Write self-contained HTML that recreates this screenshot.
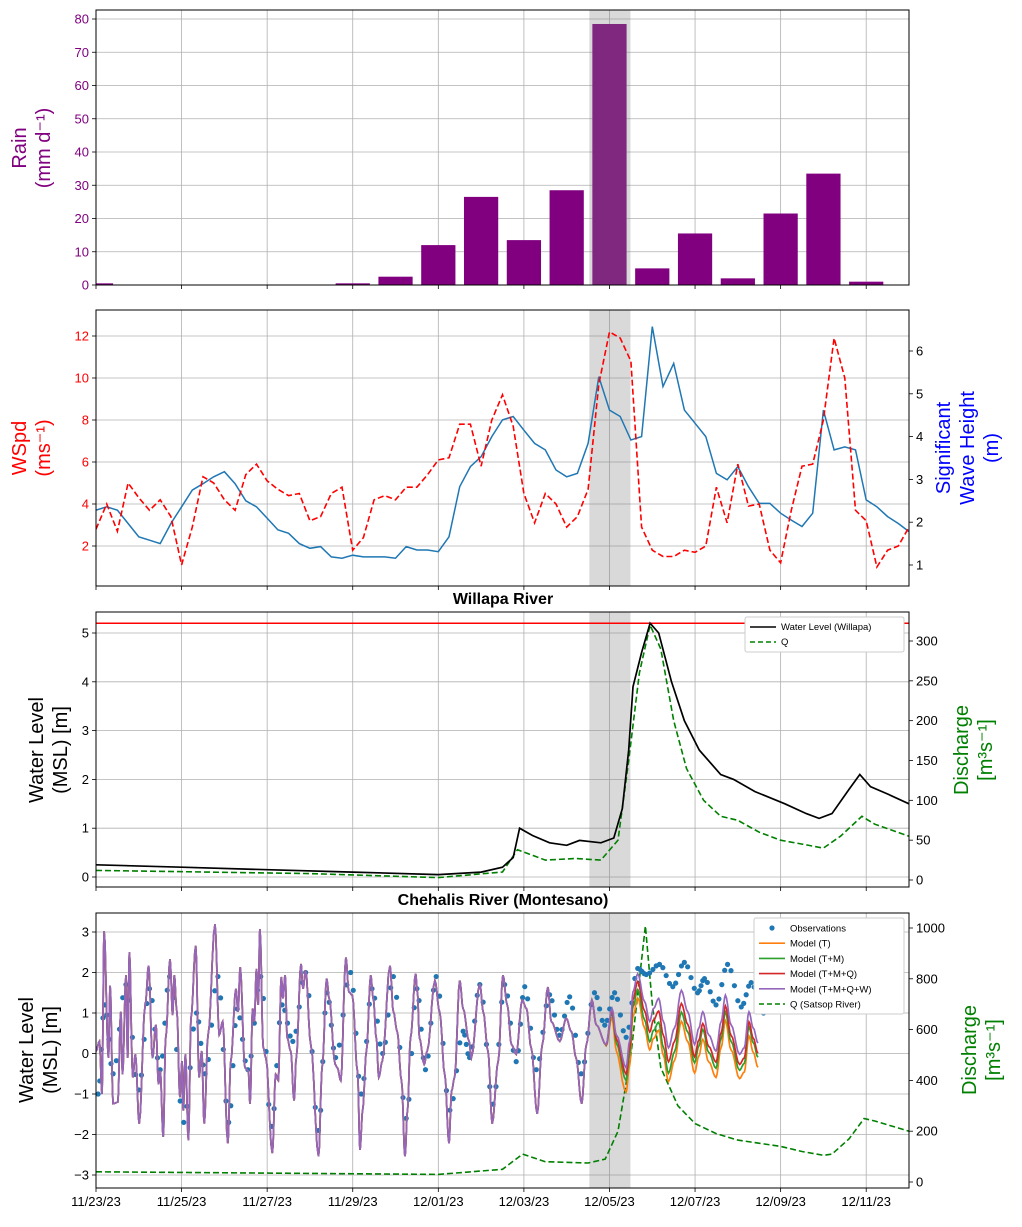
<!DOCTYPE html>
<html><head><meta charset="utf-8">
<style>
body{margin:0;background:#fff;font-family:"Liberation Sans","DejaVu Sans",sans-serif;}
svg text{font-family:"Liberation Sans","DejaVu Sans",sans-serif;}
</style></head>
<body>
<svg id="chart" width="1022" height="1222" viewBox="0 0 1022 1222" xmlns="http://www.w3.org/2000/svg"></svg>
<script>
// ---------- DATA ----------
const rainDays = [0,1,2,3,4,5,6,7,8,9,10,11,12,13,14,15,16,17,18];
const rainValues = [0.5,0,0,0,0,0,0.5,2.5,12,26.5,13.5,28.5,78.5,5,15.5,2,21.5,33.5,1];
const rainTicks = [0,10,20,30,40,50,60,70,80];

const windDays = [0,0.25,0.5,0.75,1,1.25,1.5,1.75,2,2.25,2.5,2.75,3,3.25,3.5,3.75,4,4.25,4.5,4.75,5,5.25,5.5,5.75,6,6.25,6.5,6.75,7,7.25,7.5,7.75,8,8.25,8.5,8.75,9,9.25,9.5,9.75,10,10.25,10.5,10.75,11,11.25,11.5,11.75,12,12.25,12.5,12.75,13,13.25,13.5,13.75,14,14.25,14.5,14.75,15,15.25,15.5,15.75,16,16.25,16.5,16.75,17,17.25,17.5,17.75,18,18.25,18.5,18.75,19];
const windSpeed = [2.8,4.0,2.7,5.0,4.3,3.7,4.2,3.4,1.1,2.9,5.3,5.0,4.2,3.7,5.4,5.9,5.1,4.7,4.4,4.5,3.2,3.4,4.5,4.8,1.8,2.4,4.2,4.4,4.2,4.8,4.8,5.4,6.1,6.2,7.8,7.8,5.8,8.0,9.2,7.7,4.5,3.1,4.5,4.0,2.9,3.4,4.7,9.7,12.2,11.9,10.8,2.9,1.8,1.5,1.5,1.8,1.7,2.0,4.8,3.1,5.9,3.9,4.0,1.8,1.2,3.7,5.8,5.9,8.0,11.9,10.0,3.7,3.2,1.0,1.8,2.0,2.9];
const waveHeight = [2.28,2.36,2.28,1.97,1.66,1.58,1.5,1.97,2.36,2.75,2.9,3.06,3.18,2.9,2.5,2.36,2.09,1.82,1.74,1.5,1.39,1.43,1.19,1.16,1.23,1.19,1.19,1.19,1.16,1.43,1.35,1.35,1.31,1.66,2.83,3.3,3.53,4.0,4.39,4.47,4.15,3.84,3.69,3.22,3.06,3.14,3.84,5.4,4.62,4.47,3.92,4.0,6.57,5.17,5.71,4.62,4.31,4.0,3.14,2.99,3.3,2.83,2.44,2.44,2.21,2.05,1.9,2.21,4.62,3.69,3.76,3.69,2.52,2.36,2.13,1.97,1.78];
const windTicks = [2,4,6,8,10,12];
const waveTicks = [1,2,3,4,5,6];

const willDays = [0,2,4,6,8,9,9.5,9.75,9.9,10.2,10.6,11,11.3,11.8,12.1,12.3,12.45,12.55,12.75,12.95,13.15,13.45,13.75,14.1,14.6,14.9,15.4,16.1,16.6,16.9,17.2,17.6,17.85,18.1,18.5,19];
const willLevel = [0.25,0.2,0.15,0.1,0.05,0.1,0.2,0.4,1.0,0.85,0.7,0.65,0.75,0.7,0.8,1.4,2.6,3.9,4.6,5.2,5.0,4.0,3.2,2.6,2.1,2.0,1.75,1.5,1.3,1.2,1.3,1.8,2.1,1.85,1.7,1.5];
const willQDays = [0,5,8,9.5,9.85,10.5,11.2,11.8,12.2,12.45,12.7,12.95,13.2,13.5,13.8,14.2,14.6,15,15.5,16,16.5,17,17.4,17.9,18.2,19];
const willQ = [12,8,3,10,38,25,27,25,50,150,260,320,290,200,140,100,80,75,60,50,45,40,55,80,70,55];
const floodLevel = [5.2];
const willLevelTicks = [0,1,2,3,4,5];
const willQTicks = [0,50,100,150,200,250,300];

const tideDays = [0,0.08,0.14,0.19,0.29,0.33,0.40,0.51,0.58,0.62,0.70,0.74,0.78,0.86,0.92,1.01,1.15,1.23,1.32,1.40,1.46,1.50,1.57,1.63,1.73,1.79,1.83,1.89,1.96,2.01,2.04,2.09,2.16,2.22,2.33,2.41,2.47,2.53,2.62,2.78,2.88,2.96,3.08,3.15,3.27,3.32,3.37,3.48,3.56,3.60,3.66,3.70,3.75,3.79,3.83,3.91,3.97,4.12,4.20,4.26,4.33,4.37,4.42,4.47,4.55,4.63,4.68,4.79,4.84,4.90,5.02,5.20,5.29,5.39,5.45,5.59,5.64,5.72,5.84,5.91,5.99,6.11,6.17,6.23,6.32,6.42,6.48,6.55,6.61,6.69,6.87,6.95,7.04,7.14,7.22,7.28,7.35,7.47,7.51,7.56,7.67,7.74,7.92,8.03,8.15,8.25,8.31,8.38,8.50,8.58,8.72,8.77,8.97,9.05,9.16,9.26,9.40,9.51,9.61,9.71,9.82,9.96,10.06,10.17,10.31,10.43,10.56,10.64,10.84,10.99,11.11,11.22,11.35,11.46,11.59,11.69,11.92,12.06,12.16,12.39,12.47,12.55,12.66,12.82,12.94,13.03,13.15,13.26,13.38,13.52,13.68,13.83,13.99,14.09,14.18,14.32,14.49,14.61,14.71,14.84,15.04,15.15,15.26,15.36,15.47];
const tideModelTMQW = [0.06,0.30,-1.00,3.02,-0.11,1.68,-1.24,-1.20,1.03,-0.51,1.93,-0.11,2.50,-0.59,-0.02,-1.73,1.20,2.17,-0.11,0.71,-0.76,-0.43,-2.06,0.38,2.33,0.95,1.93,1.03,-1.08,-0.19,-1.41,-0.02,-2.14,0.87,2.66,-0.59,0.06,-1.73,0.46,3.19,0.46,0.79,-2.22,-0.19,1.60,1.03,2.13,-0.35,-0.43,-1.24,1.11,0.79,2.09,1.20,3.07,0.14,-0.11,-2.46,-0.51,-0.67,1.89,1.36,1.93,0.38,0.06,-1.16,-0.11,2.21,1.60,2.05,0.22,-2.54,-0.27,1.85,1.36,-0.27,-0.35,-0.67,2.37,1.52,1.44,-0.43,-2.38,-1.41,0.06,1.93,1.36,0.38,-0.59,-0.19,2.17,1.03,0.54,-0.67,-2.54,-1.41,0.38,1.97,1.52,0.38,-0.27,0.06,1.80,1.03,-0.51,-2.22,-0.92,-0.59,1.80,1.11,0.30,-0.11,1.72,1.03,0.06,-1.73,-0.19,1.93,1.20,0.22,-0.02,1.32,1.11,0.14,-1.49,0.22,1.64,0.79,0.30,0.87,0.54,-0.11,-1.24,0.22,1.32,0.71,0.22,1.11,0.46,-0.35,0.30,1.52,1.97,1.28,0.79,1.11,1.36,0.79,0.14,0.63,1.56,1.03,0.22,0.63,1.03,0.46,0.06,0.79,1.44,0.71,-0.02,0.14,1.03,0.63,0.26];
const offsetDays = [0,11.9,12.3,12.7,13.3,14,15,15.5];
const offsetT = [0,0,-0.6,-0.6,-0.85,-0.7,-0.6,-0.6];
const offsetTM = [0,0,-0.3,-0.4,-0.65,-0.45,-0.4,-0.35];
const offsetTMQ = [0,0,-0.15,-0.2,-0.35,-0.3,-0.25,-0.25];
const obsDays = [0.05,0.2,0.4,0.7,1.0,1.25,1.5,1.72,2.05,2.35,2.55,2.85,3.1,3.3,3.55,3.85,4.1,4.35,4.6,4.9,5.2,5.4,5.6,5.95,6.2,6.45,6.7,6.95,7.25,7.5,7.7,7.95,8.27,8.58,8.73,8.97,9.28,9.55,9.82,10.02,10.29,10.6,10.83,11.07,11.34,11.65,11.89,12.12,12.39,12.66,12.86,13.17,13.48,13.75,14.06,14.22,14.49,14.76,15.08,15.31,15.6];
const obsLevel = [-1.0,1.2,-0.5,1.7,-0.9,1.6,-0.4,1.9,-1.7,1.0,-0.5,1.9,-1.7,1.1,-0.4,1.9,-1.8,1.2,0.3,2.0,-1.9,1.5,-0.1,2.0,-1.0,1.6,0,1.9,-1.6,1.6,-0.4,1.9,-1.4,0.55,-0.1,1.7,-1.25,1.7,-0.2,1.65,-0.4,1.45,0.45,1.4,-0.5,1.5,0.7,1.5,0.4,2.1,1.95,2.2,1.65,2.25,1.5,1.85,1.2,2.2,1.15,1.75,1.0];
const satsopDays = [0,4,8,9.5,9.97,10.5,11.5,11.9,12.2,12.5,12.84,13.0,13.2,13.6,14,14.5,15,16,16.5,17,17.2,17.6,17.95,18.2,19];
const satsopQ = [40,35,30,50,110,80,75,90,200,500,1008,700,450,300,230,190,165,140,120,105,110,170,250,240,200];
const chehLevelTicks = [-3,-2,-1,0,1,2,3];
const chehQTicks = [0,200,400,600,800,1000];
const dateTickDays = [0,2,4,6,8,10,12,14,16,18];
const dateTickLabels = ["11/23/23","11/25/23","11/27/23","11/29/23","12/01/23","12/03/23","12/05/23","12/07/23","12/09/23","12/11/23"];
const shadeStart = 11.53, shadeEnd = 12.49;

// ---------- RENDER ----------
const NS = "http://www.w3.org/2000/svg";
const svg = document.getElementById("chart");
function mk(tag, attrs, parent, txt){
  const e = document.createElementNS(NS, tag);
  for (const k in attrs) e.setAttribute(k, attrs[k]);
  if (txt !== undefined) e.textContent = txt;
  (parent || svg).appendChild(e);
  return e;
}
const X0 = 96, X1 = 909, DMAX = 19;
const xs = d => X0 + (X1 - X0) * d / DMAX;
function lin(v0, p0, v1, p1){ return v => p0 + (v - v0) * (p1 - p0) / (v1 - v0); }

const panels = [
  {name:"rain-panel", top:10, bot:285},
  {name:"wind-wave-panel", top:310, bot:586},
  {name:"willapa-panel", top:612, bot:887},
  {name:"chehalis-panel", top:913, bot:1188}
];
const yRain = lin(0,285,80,19);
const yWind = lin(2,546,12,336);
const yWave = lin(1,565,6,351);
const yWill = lin(0,877,5,633);
const yWillQ = lin(0,880,300,641);
const yCh = lin(-3,1175,3,932);
const yChQ = lin(0,1182,1000,928);

function linePath(days, vals, ys){
  return days.map((d,i)=>(i?"L":"M")+xs(d).toFixed(1)+","+ys(vals[i]).toFixed(1)).join("");
}
function cosSamples(days, vals, n){
  const out=[];
  for(let i=0;i<days.length-1;i++){
    for(let k=0;k<n;k++){
      const f=k/n, w=(1-Math.cos(Math.PI*f))/2;
      out.push([days[i]+(days[i+1]-days[i])*f, vals[i]+(vals[i+1]-vals[i])*w]);
    }
  }
  out.push([days[days.length-1], vals[vals.length-1]]);
  return out;
}
function interpAt(days, vals, d){
  if (d<=days[0]) return vals[0];
  for(let i=0;i<days.length-1;i++) if(d<=days[i+1]){const f=(d-days[i])/(days[i+1]-days[i]);return vals[i]+f*(vals[i+1]-vals[i]);}
  return vals[vals.length-1];
}
function fmt(t){ return t<0 ? "\u2212"+String(-t) : String(t); }

panels.forEach((p, pi)=>{
  const g = mk("g", {});
  
  
  p.g = g;
  dateTickDays.forEach(d=>{
    mk("line",{x1:xs(d),x2:xs(d),y1:p.top,y2:p.bot,stroke:"#b0b0b0","stroke-width":0.8},g);
    mk("line",{x1:xs(d),x2:xs(d),y1:p.bot,y2:p.bot+4,stroke:"#000","stroke-width":0.8},g);
  });
});

function hgrid(p, ticks, ys, side, color){
  ticks.forEach(t=>{
    const y = ys(t);
    if (side==="left") mk("line",{x1:X0,x2:X1,y1:y,y2:y,stroke:"#b0b0b0","stroke-width":0.8},p.g);
    const xt = side==="left"?X0:X1;
    mk("line",{x1:xt,x2:side==="left"?xt-4:xt+4,y1:y,y2:y,stroke:"#000","stroke-width":0.8},p.g);
    const lab = mk("text",{x:side==="left"?xt-7:xt+7,y:y+4.5,"font-size":13,"text-anchor":side==="left"?"end":"start",fill:color},p.g,fmt(t));
    
    
  });
}
function shade(p, op){
  const r = mk("rect",{x:xs(shadeStart),y:p.top,width:xs(shadeEnd)-xs(shadeStart),height:p.bot-p.top,fill:"#808080","fill-opacity":op},p.g);
  
  
}
function frame(p){
  mk("rect",{x:X0,y:p.top,width:X1-X0,height:p.bot-p.top,fill:"none",stroke:"#000","stroke-width":1},p.g);
}
function clip(p,id){
  const cp = mk("clipPath",{id:id});
  mk("rect",{x:X0,y:p.top,width:X1-X0,height:p.bot-p.top},cp);
  return "url(#"+id+")";
}
function axisLabel(lines, x, y, color, size){
  const t = mk("text",{transform:`translate(${x},${y}) rotate(-90)`,"text-anchor":"middle",fill:color,"font-size":size});
  lines.forEach((ln,i)=>{ mk("tspan",{x:0,dy:i?size*1.2:0},t,ln); });
  return t;
}

// Panel 1: rain
{
  const p = panels[0];
  hgrid(p, rainTicks, yRain, "left", "#800080");
  const gb = mk("g",{"clip-path":clip(p,"c1")},p.g);
  rainDays.forEach((d,i)=>{
    const w = (X1-X0)/DMAX*0.8;
    const b = mk("rect",{x:xs(d)-w/2,y:yRain(rainValues[i]),width:w,height:yRain(0)-yRain(rainValues[i]),fill:"#800080"},gb);
    
    
  });
  shade(p,0.3);
  frame(p);
  const l = axisLabel(["Rain","(mm d\u207B\u00B9)"],26,148,"#800080",20);
   
}
// Panel 2: wind & wave
{
  const p = panels[1];
  hgrid(p, windTicks, yWind, "left", "#ff0000");
  hgrid(p, waveTicks, yWave, "right", "#000");
  shade(p,0.3);
  const cp = clip(p,"c2");
  const wv = mk("path",{d:linePath(windDays,waveHeight,yWave),fill:"none",stroke:"#1f77b4","stroke-width":1.5,"clip-path":cp},p.g);
   
  const wd = mk("path",{d:linePath(windDays,windSpeed,yWind),fill:"none",stroke:"#ff0000","stroke-width":1.6,"stroke-dasharray":"6,3","clip-path":cp},p.g);
   
  frame(p);
  const l = axisLabel(["WSpd","(ms\u207B\u00B9)"],26,448,"#ff0000",20);
   
  const r = axisLabel(["Significant","Wave Height","(m)"],950,448,"#0000ff",20);
   
}
// Panel 3: Willapa
{
  const p = panels[2];
  hgrid(p, willLevelTicks, yWill, "left", "#000");
  hgrid(p, willQTicks, yWillQ, "right", "#000");
  shade(p,0.3);
  const cp = clip(p,"c3");
  const fl = mk("line",{x1:X0,x2:X1,y1:yWill(floodLevel[0]),y2:yWill(floodLevel[0]),stroke:"#ff0000","stroke-width":1.5},p.g);
   
  const q = mk("path",{d:linePath(willQDays,willQ,yWillQ),fill:"none",stroke:"#008000","stroke-width":1.6,"stroke-dasharray":"6,3","clip-path":cp},p.g);
   
  const wl = mk("path",{d:linePath(willDays,willLevel,yWill),fill:"none",stroke:"#000","stroke-width":1.7,"clip-path":cp},p.g);
   
  frame(p);
  const t = mk("text",{x:503,y:604,"text-anchor":"middle","font-size":16,"font-weight":"bold"},p.g,"Willapa River");
   
  const l = axisLabel(["Water Level","(MSL) [m]"],43,750,"#000",20);
   
  const r = axisLabel(["Discharge","[m\u00B3s\u207B\u00B9]"],968,750,"#008000",20);
   
  const lg = mk("g",{},p.g);
   
  mk("rect",{x:745,y:617,width:159,height:35,fill:"#fff",stroke:"#ccc",rx:2},lg);
  mk("line",{x1:750,x2:776,y1:627,y2:627,stroke:"#000","stroke-width":1.5},lg);
  mk("text",{x:781,y:630,"font-size":9.5},lg,"Water Level (Willapa)");
  mk("line",{x1:750,x2:776,y1:642,y2:642,stroke:"#008000","stroke-width":1.5,"stroke-dasharray":"5,3"},lg);
  mk("text",{x:781,y:645,"font-size":9.5},lg,"Q");
}
// Panel 4: Chehalis
{
  const p = panels[3];
  hgrid(p, chehLevelTicks, yCh, "left", "#000");
  hgrid(p, chehQTicks, yChQ, "right", "#000");
  shade(p,0.3);
  const cp = clip(p,"c4");
  const q = mk("path",{d:linePath(satsopDays,satsopQ,yChQ),fill:"none",stroke:"#008000","stroke-width":1.6,"stroke-dasharray":"6,3","clip-path":cp},p.g);
   
  const obs = cosSamples(obsDays, obsLevel, 4);
  const og = mk("g",{"clip-path":cp},p.g);
   
  obs.forEach(o=>{
    const c = mk("circle",{cx:xs(o[0]),cy:yCh(o[1]),r:2.6,fill:"#1f77b4"},og);
    
    
  });
  const base = cosSamples(tideDays, tideModelTMQW, 5);
  const models = [
    {name:"model-t-line", off:offsetT, color:"#ff7f0e"},
    {name:"model-tm-line", off:offsetTM, color:"#2ca02c"},
    {name:"model-tmq-line", off:offsetTMQ, color:"#d62728"},
    {name:"model-tmqw-line", off:null, color:"#9467bd"}
  ];
  models.forEach(m=>{
    const d = base.map((s,i)=>{
      const v = s[1] + (m.off ? interpAt(offsetDays, m.off, s[0]) : 0);
      return (i?"L":"M")+xs(s[0]).toFixed(1)+","+yCh(v).toFixed(1);
    }).join("");
    const pth = mk("path",{d:d,fill:"none",stroke:m.color,"stroke-width":1.7,"clip-path":cp},p.g);
    
    
  });
  frame(p);
  const t = mk("text",{x:503,y:905,"text-anchor":"middle","font-size":16,"font-weight":"bold"},p.g,"Chehalis River (Montesano)");
   
  const l = axisLabel(["Water Level","(MSL) [m]"],33,1050,"#000",20);
   
  const r = axisLabel(["Discharge","[m\u00B3s\u207B\u00B9]"],976,1050,"#008000",20);
   
  dateTickDays.forEach((d,i)=>{
    const tl = mk("text",{x:xs(d),y:1206,"text-anchor":"middle","font-size":13},p.g,dateTickLabels[i]);
    
    
  });
  const lg = mk("g",{},p.g);
   
  mk("rect",{x:754,y:918,width:150,height:96,fill:"#fff",stroke:"#ccc",rx:2},lg);
  const ents = [["Observations","#1f77b4","dot"],["Model (T)","#ff7f0e","line"],["Model (T+M)","#2ca02c","line"],["Model (T+M+Q)","#d62728","line"],["Model (T+M+Q+W)","#9467bd","line"],["Q (Satsop River)","#008000","dash"]];
  ents.forEach((e,i)=>{
    const y = 928 + i*15.2;
    if (e[2]==="dot") mk("circle",{cx:772,cy:y,r:2.6,fill:e[1]},lg);
    else mk("line",{x1:759,x2:785,y1:y,y2:y,stroke:e[1],"stroke-width":1.6,"stroke-dasharray":e[2]==="dash"?"5,3":"none"},lg);
    mk("text",{x:790,y:y+3.5,"font-size":9.5},lg,e[0]);
  });
}
</script>
</body></html>
